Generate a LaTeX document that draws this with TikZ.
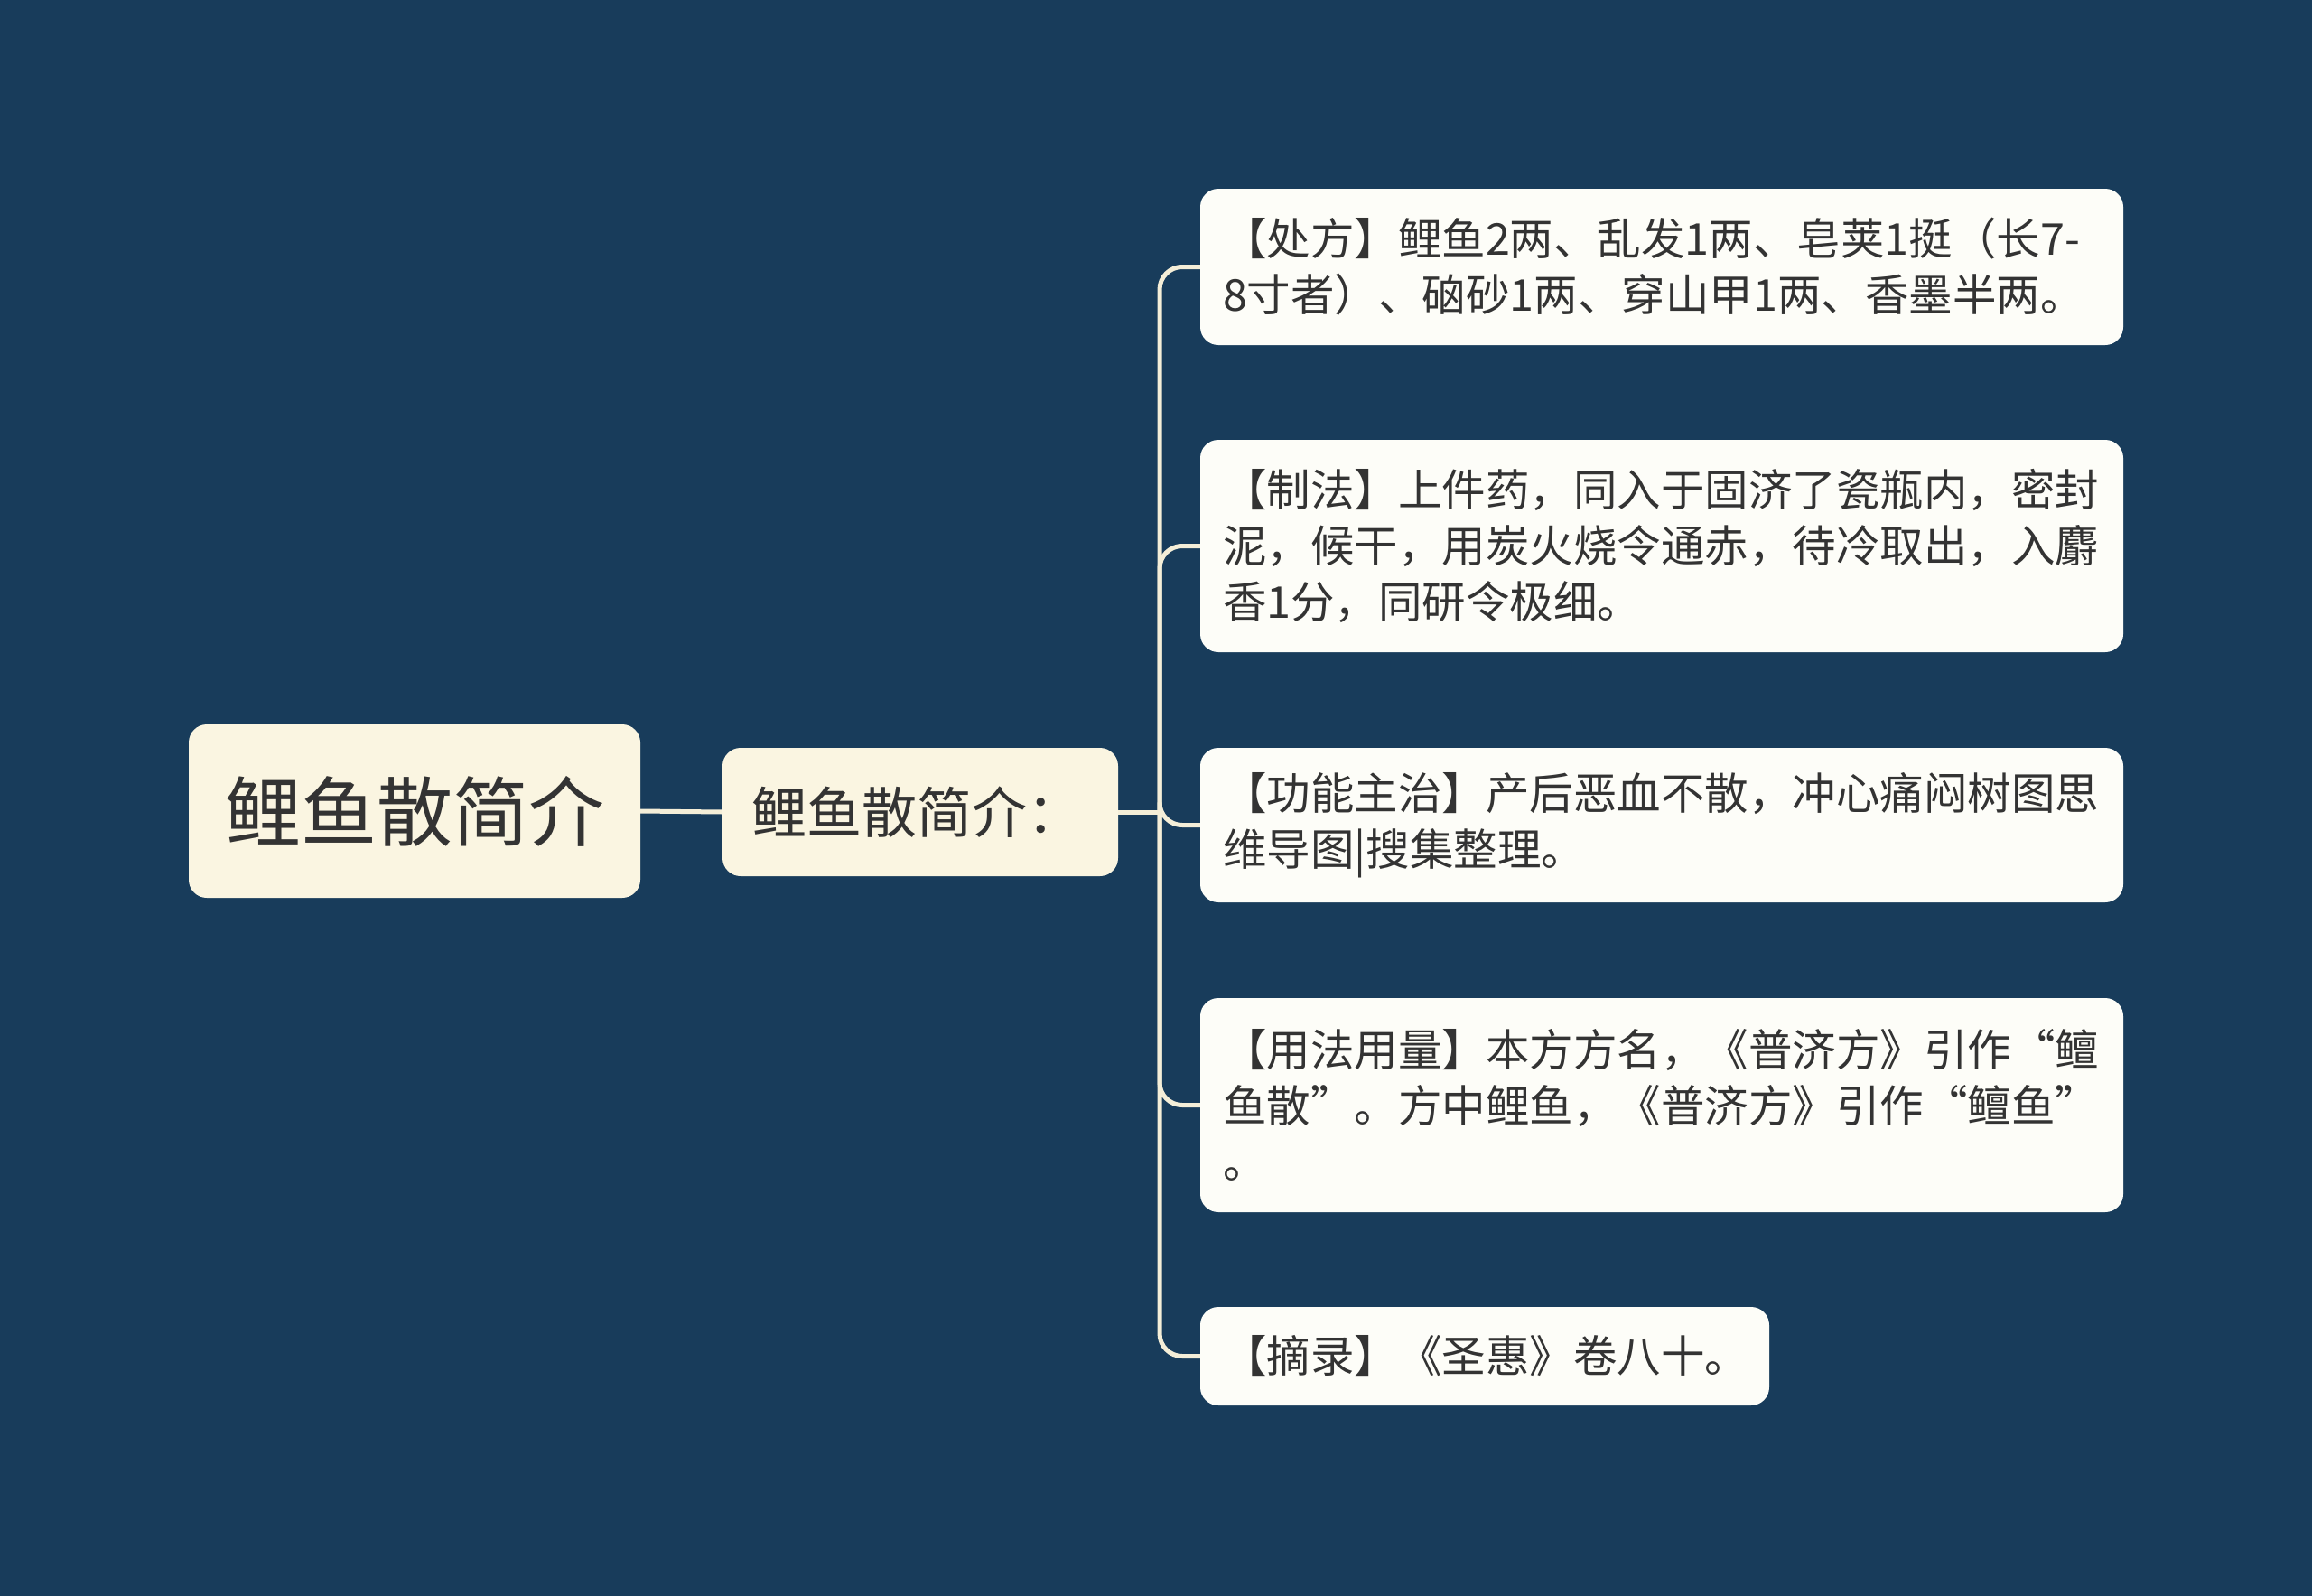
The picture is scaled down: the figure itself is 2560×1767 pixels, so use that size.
\documentclass[tikz,border=0pt]{standalone}
\usepackage{fontspec}
\setmainfont{Noto Sans CJK SC}
\definecolor{bgc}{HTML}{183C5B}
\definecolor{rootfill}{HTML}{FAF5E1}
\definecolor{leaffill}{HTML}{FDFDF8}
\definecolor{linec}{HTML}{F4EED8}
\definecolor{txt}{HTML}{333333}
\tikzset{
  mainbox/.style={draw=none, fill=rootfill, rounded corners=20pt, text=txt, inner sep=0pt, align=center},
  leafbox/.style={draw=none, fill=leaffill, rounded corners=20pt, text=txt, inner xsep=25pt, inner ysep=0pt, align=left, font=\fontsize{48.5pt}{62pt}\selectfont},
  conn/.style={draw=linec, line width=5pt, rounded corners=25pt}
}
\begin{document}
\begin{tikzpicture}[x=1pt,y=-1pt]
\fill[bgc] (0,0) rectangle (2560,1767);
\useasboundingbox (0,0) rectangle (2560,1767);

\node[mainbox, minimum width=500pt, minimum height=192pt, font=\fontsize{84pt}{100pt}\selectfont] (root) at (459,898) {鲤鱼散简介};
\node[mainbox, minimum width=438pt, minimum height=142pt, font=\fontsize{61pt}{72pt}\selectfont] (sub) at (1019,899) {\hspace*{-8pt}鲤鱼散简介：};

\node[leafbox, text width=972pt, minimum height=173pt] (l1) at (1840,295.5) {【处方】鲤鱼2两、乱发1两、皂荚1挺（长7-\\8寸者）、硇砂1两、穿山甲1两、香墨半两。};
\node[leafbox, text width=972pt, minimum height=235pt] (l2) at (1840,604.5) {【制法】上件药，同入于固济了瓷瓶内，密封\\泥，候干，用炭火烧令通赤，待冷取出，入麝\\香1分，同研令极细。};
\node[leafbox, text width=972pt, minimum height=171pt] (l3) at (1840,913.5) {【功能主治】产后恶血不散，冲心痛闷树图思\\维导图|搜集整理。};
\node[leafbox, text width=972pt, minimum height=237pt] (l4) at (1840,1223.5) {【用法用量】本方方名，《普济方》引作“鳣\\鱼散”。方中鲤鱼，《普济方》引作“鳣鱼”\\。};
\node[leafbox, text width=580pt, minimum height=109pt] (l5) at (1644,1501.5) {【摘录】《圣惠》卷八十。};

\coordinate (hub) at (1284,899);
\draw[conn] (root.east) -- (sub.west);
\draw[conn] (sub.east) -- (hub);
\foreach \n in {l1,l2,l3,l4,l5}{
  \draw[conn] (hub) |- (\n.west);
}
\end{tikzpicture}
\end{document}
